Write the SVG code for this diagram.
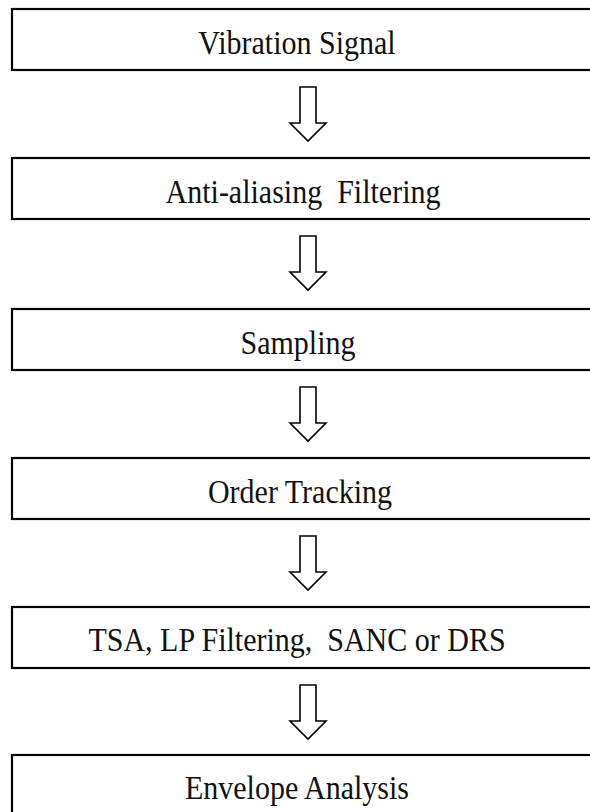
<svg xmlns="http://www.w3.org/2000/svg" width="590" height="812" viewBox="0 0 590 812">
<style>
.box{fill:#fff;stroke:#000;stroke-width:2.2}
.lbl{font-family:"Liberation Serif","Times New Roman",serif;font-size:30px;fill:#111;text-anchor:middle;white-space:pre}
.arr{fill:#fff;stroke:#000;stroke-width:1.6;stroke-linejoin:miter}
</style>
<rect width="590" height="812" fill="#fff"/>
<g id="connectors">
<path class="arr" d="M300,87 H316 V123 H326 L308,141 L290,123 H300 Z"/>
<path class="arr" d="M300,236 H316 V272 H326 L308,290 L290,272 H300 Z"/>
<path class="arr" d="M300,387 H316 V423 H326 L308,441 L290,423 H300 Z"/>
<path class="arr" d="M300,536 H316 V572 H326 L308,590 L290,572 H300 Z"/>
<path class="arr" d="M300,685 H316 V721 H326 L308,739 L290,721 H300 Z"/>
</g>
<g id="n1"><rect class="box" x="12" y="9" width="600" height="61"/><text class="lbl" transform="translate(297,54) scale(1,1.13)" xml:space="preserve">Vibration Signal</text></g>
<g id="n2"><rect class="box" x="12" y="158" width="600" height="61"/><text class="lbl" transform="translate(303,203) scale(1,1.13)" xml:space="preserve">Anti-aliasing  Filtering</text></g>
<g id="n3"><rect class="box" x="12" y="309" width="600" height="61"/><text class="lbl" transform="translate(298,354) scale(1,1.13)" xml:space="preserve">Sampling</text></g>
<g id="n4"><rect class="box" x="12" y="458" width="600" height="61"/><text class="lbl" transform="translate(300,503) scale(1,1.13)" xml:space="preserve">Order Tracking</text></g>
<g id="n5"><rect class="box" x="12" y="607" width="600" height="61"/><text class="lbl" transform="translate(297,651) scale(1,1.13)" xml:space="preserve">TSA, LP Filtering,  SANC or DRS</text></g>
<g id="n6"><rect class="box" x="12" y="755" width="600" height="80"/><text class="lbl" transform="translate(297,799) scale(1,1.13)" xml:space="preserve">Envelope Analysis</text></g>
</svg>
